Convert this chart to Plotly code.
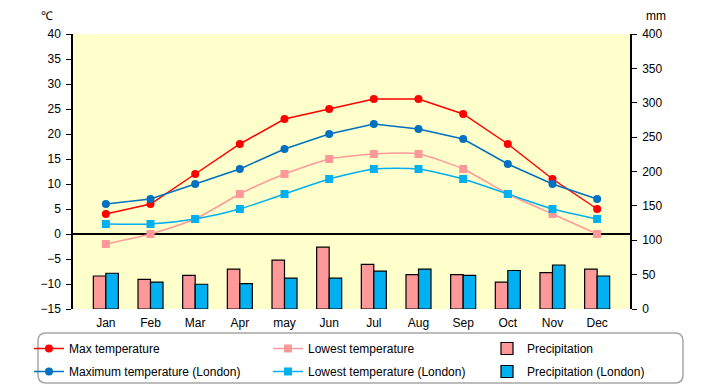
import plotly.graph_objects as go

months = ["Jan", "Feb", "Mar", "Apr", "may", "Jun", "Jul", "Aug", "Sep", "Oct", "Nov", "Dec"]
max_temp = [4, 6, 12, 18, 23, 25, 27, 27, 24, 18, 11, 5]
low_temp = [-2, 0, 3, 8, 12, 15, 16, 16, 13, 8, 4, 0]
max_london = [6, 7, 10, 13, 17, 20, 22, 21, 19, 14, 10, 7]
low_london = [2, 2, 3, 5, 8, 11, 13, 13, 11, 8, 5, 3]
precip = [48, 43, 49, 58, 71, 90, 65, 50, 50, 39, 53, 58]
precip_london = [52, 39, 36, 37, 45, 45, 55, 58, 49, 56, 64, 48]

FONT = "Liberation Sans"
fig = go.Figure()

# bars (mm, right axis)
fig.add_trace(go.Bar(x=months, y=precip, name="Precipitation", yaxis="y2",
                     marker=dict(color="#FF9999", line=dict(color="black", width=1.2)),
                     legend="legend3", legendgroup="p1"))
fig.add_trace(go.Bar(x=months, y=precip_london, name="Precipitation (London)", yaxis="y2",
                     marker=dict(color="#00B0F0", line=dict(color="black", width=1.2)),
                     legend="legend3", legendgroup="p2"))

def line(y, name, color, symbol, legend, grp, spline):
    ln = dict(color=color, width=1.5)
    if spline:
        ln.update(shape="spline", smoothing=0.6)
    fig.add_trace(go.Scatter(x=months, y=y, name=name, yaxis="y",
                             mode="lines+markers", line=ln,
                             marker=dict(color=color, size=8, symbol=symbol),
                             legend=legend, legendgroup=grp))

line(max_temp, "Max temperature", "#FF0000", "circle", "legend", "a1", False)
line(max_london, "Maximum temperature (London)", "#0070C0", "circle", "legend", "a2", False)
line(low_temp, "Lowest temperature", "#FF9999", "square", "legend2", "b1", True)
line(low_london, "Lowest temperature (London)", "#00B0F0", "square", "legend2", "b2", True)

# the page places the figure 8px from the top-left corner (body margin)
OFF = 8
W, H = 720 - OFF, 385 - OFF
PL, PR, PT, PB = 73, 630, 34, 309          # plot area in page pixels
L, T = PL - OFF, PT - OFF
R, B = W - (PR - OFF), H - (PB - OFF)
pw, ph = W - L - R, H - T - B

def px(xp):
    return (xp - PL) / pw

def py(yp):
    return (PB - yp) / ph

# rounded legend box
x0, x1, y0, y1 = px(38), px(683), py(383), py(333)
rx, ry = 8 / pw, 8 / ph
path = (f"M {x0+rx},{y1} L {x1-rx},{y1} Q {x1},{y1} {x1},{y1-ry} "
        f"L {x1},{y0+ry} Q {x1},{y0} {x1-rx},{y0} L {x0+rx},{y0} "
        f"Q {x0},{y0} {x0},{y0+ry} L {x0},{y1-ry} Q {x0},{y1} {x0+rx},{y1} Z")

leg_common = dict(orientation="v", bgcolor="rgba(0,0,0,0)", borderwidth=0,
                  font=dict(family=FONT, size=12, color="black"),
                  tracegroupgap=4, xanchor="left", yanchor="top", itemwidth=30)

fig.update_layout(
    width=W, height=H,
    margin=dict(l=L, r=R, t=T, b=B, pad=0, autoexpand=False),
    paper_bgcolor="white",
    plot_bgcolor="#FFFFCC",
    font=dict(family=FONT, size=12, color="black"),
    barmode="group", bargap=0.44, bargroupgap=0,
    xaxis=dict(type="category", showgrid=False, showline=False, ticks="",
               ticklabelstandoff=5,
               tickfont=dict(family=FONT, size=12), fixedrange=True),
    yaxis=dict(range=[-15, 40], dtick=5, side="left", showgrid=False,
               showline=True, linecolor="black", linewidth=1.5, ticks="outside",
               ticklen=5, tickcolor="black", zeroline=True, zerolinecolor="black",
               zerolinewidth=1.5, ticklabelstandoff=3, tickfont=dict(family=FONT, size=12)),
    yaxis2=dict(range=[0, 400], dtick=50, side="right", overlaying="y", showgrid=False,
                showline=True, linecolor="black", linewidth=1.5, ticks="outside",
                ticklen=5, tickcolor="black", zeroline=False, ticklabelstandoff=3,
                tickfont=dict(family=FONT, size=12)),
    legend=dict(x=px(29), y=py(334), **leg_common),
    legend2=dict(x=px(268), y=py(334), **leg_common),
    legend3=dict(x=px(487), y=py(334), **leg_common),
    shapes=[dict(type="path", xref="paper", yref="paper", path=path,
                 line=dict(color="#A6A6A6", width=1.5), fillcolor="rgba(0,0,0,0)", layer="below")],
    annotations=[
        dict(text="℃", xref="paper", yref="paper", x=px(47), y=py(16), showarrow=False,
             xanchor="center", yanchor="middle", font=dict(family=FONT, size=12)),
        dict(text="mm", xref="paper", yref="paper", x=px(656), y=py(16), showarrow=False,
             xanchor="center", yanchor="middle", font=dict(family=FONT, size=12)),
    ],
)

fig.write_html("out.html")
